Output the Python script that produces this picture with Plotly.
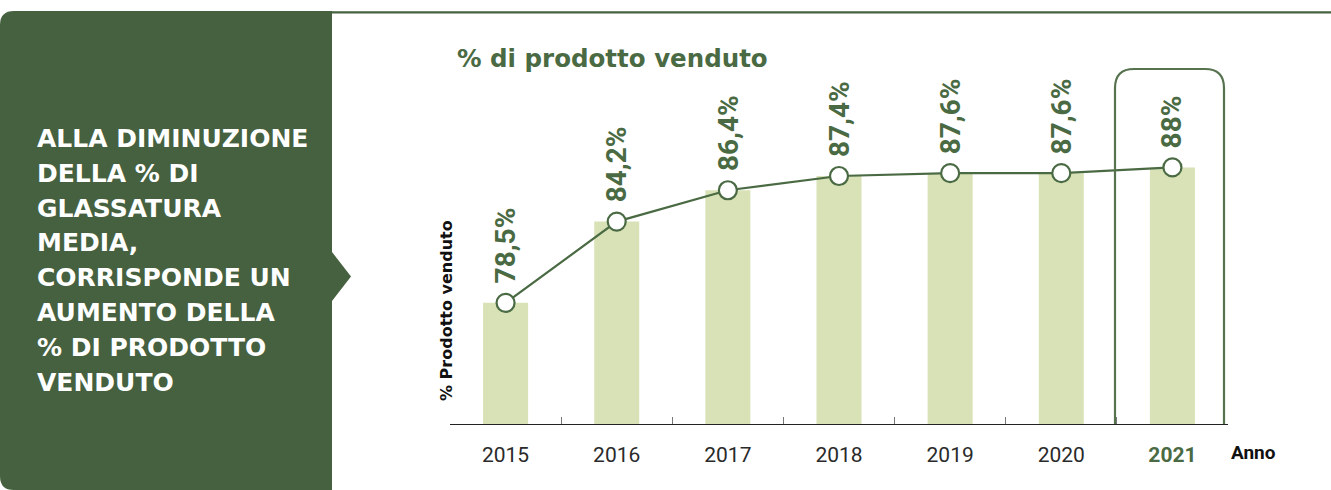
import plotly.graph_objects as go

# ---- data -------------------------------------------------------------
years = ["2015", "2016", "2017", "2018", "2019", "2020", "2021"]
sold_pct = [78.5, 84.2, 86.4, 87.4, 87.6, 87.6, 88.0]
highlight_year = "2021"

panel_lines = [
    "ALLA DIMINUZIONE",
    "DELLA % DI",
    "GLASSATURA",
    "MEDIA,",
    "CORRISPONDE UN",
    "AUMENTO DELLA",
    "% DI PRODOTTO",
    "VENDUTO",
]

# ---- style ------------------------------------------------------------
W, H = 1331, 490
ML, MR, MT, MB = 450, 103, 60, 66
PANEL = "#46613F"
GREEN = "#4A6A43"
BOX = "#56724F"
BAR = "#D8E2B6"
Y0, Y1 = 70, 95.54
WIDE = "DejaVu Sans"

PW = W - ML - MR
PH = H - MT - MB


def px(x, y):
    """absolute pixel -> paper coordinates"""
    return (x - ML) / PW, (H - MB - y) / PH


def path(points, close=True):
    out = []
    for cmd, pts in points:
        coords = " ".join(f"{px(x, y)[0]:.5f},{px(x, y)[1]:.5f}" for x, y in pts)
        out.append(f"{cmd}{coords}")
    return " ".join(out) + (" Z" if close else "")


fig = go.Figure()

fig.add_trace(go.Bar(
    x=years, y=sold_pct,
    marker=dict(color=BAR, line=dict(width=0)),
    width=0.405, hoverinfo="skip",
))
fig.add_trace(go.Scatter(
    x=years, y=sold_pct, mode="lines+markers",
    line=dict(color=GREEN, width=2.2),
    marker=dict(size=18, color="white", line=dict(color=GREEN, width=2.2)),
    cliponaxis=False, hoverinfo="skip",
))

shapes = []
# left panel with rounded corners and arrow pointing at the chart
r = 14
shapes.append(dict(
    type="path", xref="paper", yref="paper", layer="below",
    fillcolor=PANEL, line=dict(width=0),
    path=path([
        ("M", [(0, 11 + r)]),
        ("Q", [(0, 11), (r, 11)]),
        ("L", [(332, 11)]),
        ("L", [(332, 252)]),
        ("L", [(351, 276.5)]),
        ("L", [(332, 301)]),
        ("L", [(332, 490)]),
        ("L", [(r, 490)]),
        ("Q", [(0, 490), (0, 490 - r)]),
    ]),
))
# top rule
x0, y0 = px(332, 12.3)
x1, _ = px(1331, 12.3)
shapes.append(dict(type="line", xref="paper", yref="paper",
                   x0=x0, x1=x1, y0=y0, y1=y0,
                   line=dict(color=PANEL, width=2.2)))
# rounded frame around the highlighted year
rb = 19
bl, br, bt, bb = 1115, 1224, 69, 424
shapes.append(dict(
    type="path", xref="paper", yref="paper", layer="above",
    line=dict(color=BOX, width=2.2), fillcolor="rgba(0,0,0,0)",
    path=path([
        ("M", [(bl, bb)]),
        ("L", [(bl, bt + rb)]),
        ("Q", [(bl, bt), (bl + rb, bt)]),
        ("L", [(br - rb, bt)]),
        ("Q", [(br, bt), (br, bt + rb)]),
        ("L", [(br, bb)]),
    ], close=False),
))

annotations = []
# value labels above each point (category axis -> serial index)
for i, v in enumerate(sold_pct):
    label = f"{v:g}".replace(".", ",") + "%"
    annotations.append(dict(
        x=i, y=v, xref="x", yref="y", text=f"<b>{label}</b>",
        textangle=-90, showarrow=False, xanchor="center", yanchor="bottom",
        yshift=17, font=dict(family="Roboto", size=28, color=GREEN, weight=900),
    ))

# panel text
for i, line in enumerate(panel_lines):
    ax, ay = px(35, 138.5 + i * 34.8)
    annotations.append(dict(
        x=ax, y=ay, xref="paper", yref="paper", text=f"<b>{line}</b>",
        showarrow=False, xanchor="left", yanchor="middle",
        font=dict(family=WIDE, size=25, color="white"),
    ))

# chart title
tx, ty = px(455, 58)
annotations.append(dict(
    x=tx, y=ty, xref="paper", yref="paper",
    text="<b>% di prodotto venduto</b>", showarrow=False,
    xanchor="left", yanchor="middle",
    font=dict(family=WIDE, size=24.5, color=GREEN),
))

# y axis title
ax, ay = px(446, 311)
annotations.append(dict(
    x=ax, y=ay, xref="paper", yref="paper",
    text="<b>% Prodotto venduto</b>", textangle=-90, showarrow=False,
    xanchor="center", yanchor="middle",
    font=dict(family=WIDE, size=16, color="#111111"),
))

# x axis title
ax, ay = px(1229, 452)
annotations.append(dict(
    x=ax, y=ay, xref="paper", yref="paper",
    text="<b>Anno</b>", showarrow=False, xanchor="left", yanchor="middle",
    font=dict(family="Roboto", size=19, color="#111111"),
))

ticktext = [
    f"<b><span style='color:{GREEN}'>{y}</span></b>" if y == highlight_year else y
    for y in years
]

fig.update_layout(
    width=W, height=H,
    margin=dict(l=ML, r=MR, t=MT, b=MB, pad=0, autoexpand=False),
    paper_bgcolor="white", plot_bgcolor="rgba(0,0,0,0)",
    showlegend=False,
    shapes=shapes, annotations=annotations,
    xaxis=dict(
        type="category", tickmode="array", tickvals=years, ticktext=ticktext,
        range=[-0.5, len(years) - 0.5], autorange=False, automargin=False,
        tickangle=0,
        showline=True, linecolor="#222222", linewidth=1.4,
        ticks="inside", tickson="boundaries", ticklen=7, tickwidth=1.2,
        tickcolor="#777777", showgrid=False, zeroline=False,
        tickfont=dict(family="Roboto", size=21, color="#2a2a2a"),
        ticklabelstandoff=12,
    ),
    yaxis=dict(range=[Y0, Y1], autorange=False, visible=False,
               showgrid=False, zeroline=False),
)

fig.write_html("out.html")
